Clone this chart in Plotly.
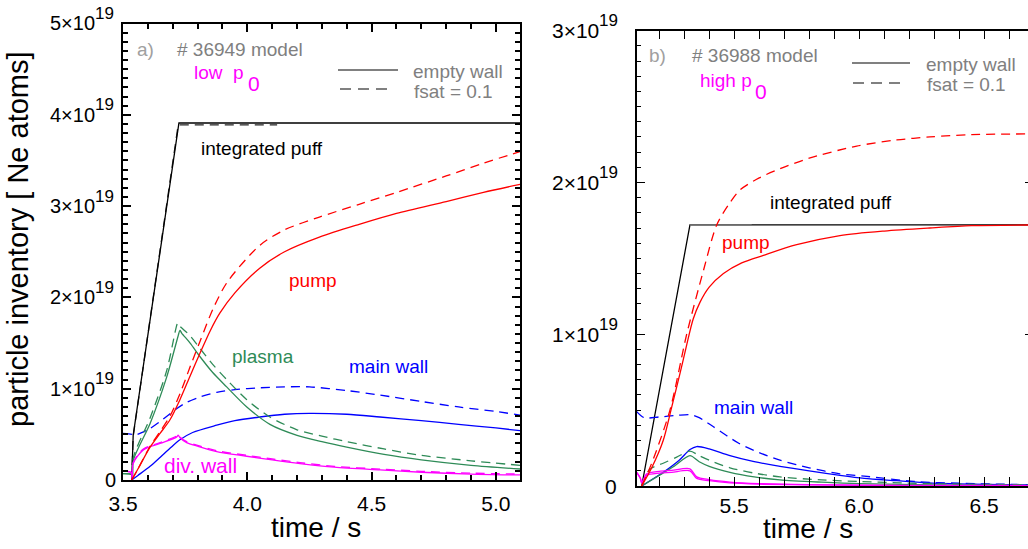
import plotly.graph_objects as go

# ---------------------------------------------------------------
# Neon particle inventories (units of 1e19 atoms) versus time [s]
# ---------------------------------------------------------------
SCALE = 1e19

# ---- panel a) : # 36949, low p0 ----
t_puff_a = [3.535, 3.541, 3.725, 5.1]
puff_a = [0.0, 0.49, 3.91, 3.91]
t_puff_a_fs = [3.535, 3.541, 3.722, 4.12]
puff_a_fs = [0.0, 0.48, 3.89, 3.89]

t_pump_a = [3.535, 3.56, 3.609, 3.649, 3.689, 3.729, 3.77, 3.81, 3.85, 3.89, 3.95,
            4.05, 4.15, 4.29, 4.45, 4.6, 4.8, 4.95, 5.1]
pump_a = [0.0, 0.12, 0.36, 0.51, 0.66, 0.88, 1.14, 1.39, 1.63, 1.83, 2.05,
          2.32, 2.50, 2.66, 2.80, 2.92, 3.05, 3.15, 3.24]
t_pump_a_fs = [3.535, 3.56, 3.609, 3.649, 3.689, 3.73, 3.77, 3.81, 3.863, 3.92,
               4.05, 4.15, 4.29, 4.45, 4.6, 4.8, 4.95, 5.1]
pump_a_fs = [0.0, 0.12, 0.37, 0.53, 0.70, 0.95, 1.24, 1.52, 1.88, 2.17,
             2.57, 2.74, 2.88, 3.02, 3.15, 3.33, 3.47, 3.60]

t_plasma_a = [3.5, 3.534, 3.538, 3.542, 3.609, 3.676, 3.722, 3.729, 3.736, 3.77, 3.81,
              3.86, 3.917, 3.998, 4.091, 4.2, 4.3, 4.4, 4.55, 4.7, 4.9, 5.1]
plasma_a = [0.07, 0.06, 0.02, 0.22, 0.62, 1.13, 1.58, 1.64, 1.61, 1.50, 1.35,
            1.18, 1.02, 0.80, 0.61, 0.49, 0.42, 0.36, 0.28, 0.22, 0.16, 0.12]
t_plasma_a_fs = [3.5, 3.534, 3.538, 3.542, 3.609, 3.676, 3.713, 3.72, 3.727, 3.77, 3.81,
                 3.86, 3.917, 3.998, 4.091, 4.2, 4.3, 4.4, 4.55, 4.7, 4.9, 5.1]
plasma_a_fs = [0.07, 0.06, 0.02, 0.25, 0.68, 1.20, 1.66, 1.72, 1.69, 1.58, 1.44,
               1.27, 1.10, 0.88, 0.69, 0.55, 0.48, 0.42, 0.34, 0.27, 0.21, 0.16]

t_main_a = [3.535, 3.56, 3.609, 3.65, 3.69, 3.729, 3.78, 3.877, 3.95, 4.05, 4.15, 4.25,
            4.4, 4.534, 4.7, 4.85, 5.0, 5.1]
main_a = [0.0, 0.05, 0.15, 0.25, 0.35, 0.44, 0.52, 0.60, 0.65, 0.69, 0.72, 0.73,
          0.72, 0.69, 0.65, 0.61, 0.57, 0.54]
t_main_a_fs = [3.5, 3.535, 3.545, 3.6, 3.649, 3.71, 3.756, 3.81, 3.877, 3.95, 4.05, 4.15,
               4.25, 4.4, 4.534, 4.7, 4.85, 5.0, 5.1]
main_a_fs = [0.51, 0.50, 0.49, 0.55, 0.64, 0.77, 0.85, 0.91, 0.96, 0.99, 1.01, 1.02,
             1.02, 0.98, 0.93, 0.86, 0.80, 0.75, 0.71]

t_div_a = [3.5, 3.533, 3.537, 3.541, 3.582, 3.649, 3.715, 3.722, 3.73, 3.756, 3.8, 3.877,
           3.998, 4.1, 4.212, 4.35, 4.534, 4.7, 4.9, 5.1]
div_a = [0.10, 0.08, 0.01, 0.18, 0.33, 0.40, 0.47, 0.49, 0.46, 0.41, 0.37, 0.31,
         0.26, 0.22, 0.18, 0.14, 0.11, 0.085, 0.065, 0.055]
div_a_fs = [0.10, 0.08, 0.01, 0.19, 0.34, 0.41, 0.48, 0.50, 0.47, 0.42, 0.38, 0.32,
            0.27, 0.23, 0.19, 0.15, 0.12, 0.095, 0.075, 0.065]

# ---- panel b) : # 36988, high p0 ----
t_puff_b = [5.13, 5.323, 6.7]
puff_b = [0.0, 1.72, 1.72]
t_puff_b_fs = [5.323, 5.57]
puff_b_fs = [1.72, 1.72]

t_pump_b = [5.13, 5.17, 5.216, 5.25, 5.283, 5.31, 5.336, 5.363, 5.40, 5.457, 5.53,
            5.617, 5.75, 5.923, 6.1, 6.283, 6.45, 6.7]
pump_b = [0.0, 0.12, 0.30, 0.52, 0.74, 0.93, 1.10, 1.21, 1.31, 1.40, 1.47,
          1.52, 1.59, 1.65, 1.68, 1.70, 1.715, 1.72]
t_pump_b_fs = [5.13, 5.17, 5.243, 5.31, 5.377, 5.43, 5.48, 5.523, 5.6, 5.683, 5.8,
               5.99, 6.15, 6.283, 6.45, 6.7]
pump_b_fs = [0.0, 0.15, 0.50, 1.00, 1.42, 1.72, 1.86, 1.95, 2.03, 2.09, 2.16,
             2.24, 2.28, 2.30, 2.315, 2.32]

t_main_b = [5.13, 5.216, 5.28, 5.323, 5.35, 5.4, 5.483, 5.58, 5.683, 5.8, 5.923,
            6.02, 6.15, 6.28, 6.45, 6.7]
main_b = [0.0, 0.09, 0.17, 0.24, 0.26, 0.245, 0.20, 0.16, 0.13, 0.10, 0.07,
          0.05, 0.035, 0.02, 0.012, 0.006]
t_main_b_fs = [5.11, 5.14, 5.2, 5.27, 5.323, 5.36, 5.417, 5.52, 5.6, 5.683, 5.8,
               5.923, 6.02, 6.22, 6.4, 6.7]
main_b_fs = [0.49, 0.45, 0.455, 0.465, 0.47, 0.45, 0.39, 0.28, 0.22, 0.17, 0.12,
             0.08, 0.065, 0.03, 0.018, 0.008]

t_plasma_b = [5.13, 5.2, 5.26, 5.323, 5.36, 5.4, 5.483, 5.58, 5.683, 5.85, 6.0, 6.3, 6.7]
plasma_b = [0.0, 0.07, 0.13, 0.20, 0.16, 0.13, 0.09, 0.06, 0.04, 0.025, 0.015, 0.008, 0.004]
t_plasma_b_fs = [5.13, 5.163, 5.216, 5.27, 5.323, 5.36, 5.4, 5.483, 5.58, 5.683, 5.85,
                 6.0, 6.3, 6.7]
plasma_b_fs = [0.0, 0.11, 0.15, 0.19, 0.23, 0.20, 0.17, 0.12, 0.085, 0.06, 0.04,
               0.03, 0.015, 0.008]

t_div_b = [5.11, 5.125, 5.13, 5.15, 5.2, 5.25, 5.323, 5.35, 5.4, 5.483, 5.6, 5.8, 6.2, 6.7]
div_b = [0.09, 0.05, 0.02, 0.07, 0.085, 0.09, 0.10, 0.05, 0.035, 0.02, 0.012, 0.007, 0.003, 0.002]
div_b_fs = [0.09, 0.05, 0.02, 0.08, 0.097, 0.103, 0.113, 0.06, 0.042, 0.026, 0.016, 0.009, 0.004, 0.003]

# tick labels
yticks_a = [0, 1, 2, 3, 4, 5]
yticks_b = [0, 1, 2, 3]
EXPONENT = "19"

# ---------------------------------------------------------------
W, H = 1028, 549
FONT = "Liberation Sans"
RED, GREEN, BLUE, MAG = "#ff0000", "#2e8b57", "#0000ff", "#ff00ff"
GRAY = "#808080"
DASH = "9px,6px"


def px(x, y):
    """pixel position -> paper coordinates"""
    return x / W, 1 - y / H


fig = go.Figure()


def add(t, v, color, dash, xa, ya, width=1.3, shape="spline"):
    fig.add_trace(go.Scatter(
        x=t, y=[s * SCALE for s in v], mode="lines",
        line=dict(color=color, width=width, dash=dash, shape=shape, smoothing=0.8),
        xaxis=xa, yaxis=ya, showlegend=False, hoverinfo="skip"))


# panel a
add(t_puff_a_fs, puff_a_fs, "#222222", DASH, "x", "y", shape="linear")
add(t_puff_a, puff_a, "black", "solid", "x", "y", shape="linear")
add(t_main_a_fs, main_a_fs, BLUE, DASH, "x", "y")
add(t_main_a, main_a, BLUE, "solid", "x", "y")
add(t_plasma_a_fs, plasma_a_fs, GREEN, DASH, "x", "y")
add(t_plasma_a, plasma_a, GREEN, "solid", "x", "y")
add(t_div_a, div_a_fs, MAG, DASH, "x", "y")
add(t_div_a, div_a, MAG, "solid", "x", "y")
add(t_pump_a_fs, pump_a_fs, RED, DASH, "x", "y")
add(t_pump_a, pump_a, RED, "solid", "x", "y")

# panel b
add(t_puff_b, puff_b, "black", "solid", "x2", "y2", shape="linear")
add(t_puff_b_fs, puff_b_fs, "#7a7a7a", "solid", "x2", "y2", 1.6, shape="linear")
add(t_main_b_fs, main_b_fs, BLUE, DASH, "x2", "y2")
add(t_main_b, main_b, BLUE, "solid", "x2", "y2")
add(t_plasma_b_fs, plasma_b_fs, GREEN, DASH, "x2", "y2")
add(t_plasma_b, plasma_b, GREEN, "solid", "x2", "y2")
add(t_div_b, div_b_fs, MAG, "solid", "x2", "y2")
add(t_div_b, div_b, MAG, "solid", "x2", "y2")
add(t_pump_b_fs, pump_b_fs, RED, DASH, "x2", "y2")
add(t_pump_b, pump_b, RED, "solid", "x2", "y2")
# carrier for the right-hand tick axis of panel b
fig.add_trace(go.Scatter(x=[], y=[], xaxis="x2", yaxis="y3", showlegend=False))

# ---------------------------------------------------------------
# axes
AX_A = (123, 520, 23.5, 480)      # left, right, top, bottom (px)
AX_B = (636.7, 1028, 30.7, 486)
XSCALE = 248.6                    # px per second, panel a
XSCALE_B = 250.0                  # px per second, panel b

common_x = dict(showgrid=False, zeroline=False, showline=True, linecolor="black",
                automargin=False,
                ticks="inside", tickcolor="black", tickformat=".1f", dtick=0.5,
                tickfont=dict(family=FONT, size=21, color="black"))
common_y = dict(showgrid=False, zeroline=False, showline=True, linecolor="black",
                automargin=False,
                ticks="inside", tickcolor="black", dtick=SCALE, showticklabels=False)

fig.update_layout(
    template="none",
    xaxis=dict(common_x, domain=[AX_A[0] / W, AX_A[1] / W],
               range=[3.5, 3.5 + (AX_A[1] - AX_A[0]) / XSCALE], tick0=3.5,
               anchor="y", mirror="allticks", linewidth=2, ticklen=8, tickwidth=1.5,
               ticklabelstandoff=4,
               minor=dict(dtick=0.1, tick0=3.5, ticks="inside", ticklen=5,
                          tickwidth=1.5, tickcolor="black", showgrid=False)),
    yaxis=dict(common_y, domain=[1 - AX_A[3] / H, 1 - AX_A[2] / H], range=[0, 5 * SCALE],
               anchor="x", mirror="allticks", linewidth=2, ticklen=8, tickwidth=1.5,
               minor=dict(dtick=0.1 * SCALE, ticks="inside", ticklen=5,
                          tickwidth=1.5, tickcolor="black", showgrid=False)),
    xaxis2=dict(common_x, domain=[AX_B[0] / W, 1.0],
                range=[5.11, 5.11 + (AX_B[1] - AX_B[0]) / XSCALE_B], tick0=5.5,
                anchor="y2", mirror="allticks", linewidth=1.5, ticklen=9, tickwidth=1.3,
                ticklabelstandoff=0,
                minor=dict(dtick=0.1, tick0=5.5, ticks="inside", ticklen=5,
                           tickwidth=1.3, tickcolor="black", showgrid=False)),
    yaxis2=dict(common_y, domain=[1 - AX_B[3] / H, 1 - AX_B[2] / H], range=[0, 3 * SCALE],
                anchor="x2", mirror=False, linewidth=1.5, ticklen=9, tickwidth=1.3,
                minor=dict(dtick=0.1 * SCALE, ticks="inside", ticklen=5,
                           tickwidth=1.3, tickcolor="black", showgrid=False)),
    yaxis3=dict(overlaying="y2", anchor="x2", side="right", range=[0, 3 * SCALE],
                tickvals=[1 * SCALE, 2 * SCALE], ticks="inside", ticklen=3, tickwidth=1.3,
                tickcolor="black", showline=False, showgrid=False, zeroline=False,
                showticklabels=False, automargin=False),
)

# ---------------------------------------------------------------
ann = []


def text(x, y, s, size=19, color="black", xanchor="center", yanchor="middle", **kw):
    xx, yy = px(x, y)
    ann.append(dict(x=xx, y=yy, xref="paper", yref="paper", text=s, showarrow=False,
                    xanchor=xanchor, yanchor=yanchor,
                    font=dict(family=FONT, size=size, color=color), **kw))


# advance widths (em) of the glyphs used in the y tick labels
GLYPH_EM = {"0": 0.556, "1": 0.556, "2": 0.556, "3": 0.556, "4": 0.556, "5": 0.556,
            "×": 0.584}


def ylabels(ticks, yref, x_left, x_zero, size, exp_size, exp_dy):
    for v in ticks:
        if v == 0:
            ann.append(dict(x=x_zero / W, y=0, xref="paper", yref=yref, text="0",
                            showarrow=False, xanchor="right", yanchor="middle",
                            font=dict(family=FONT, size=size, color="black")))
            continue
        base = f"{v}×10"
        ann.append(dict(x=x_left / W, y=v * SCALE, xref="paper", yref=yref, text=base,
                        showarrow=False, xanchor="left", yanchor="middle",
                        font=dict(family=FONT, size=size, color="black")))
        width = sum(GLYPH_EM[c] for c in base) * size
        ann.append(dict(x=(x_left + width) / W, y=v * SCALE, xref="paper", yref=yref,
                        text=EXPONENT, showarrow=False, xanchor="left",
                        yanchor="middle", yshift=exp_dy,
                        font=dict(family=FONT, size=exp_size, color="black")))


ylabels(yticks_a, "y", 48, 118, 20, 17, 10)
ylabels(yticks_b, "y2", 550, 619, 21, 17, 10)

# axis titles
text(18, 239, "particle inventory [ Ne atoms]", size=29, textangle=-90)
text(316, 527, "time / s", size=28)
text(808, 528, "time / s", size=28)

# panel a annotations
text(135, 49, "a)", size=19, color="#a0a0a0", xanchor="left")
text(175, 49, "# 36949 model", size=19, color=GRAY, xanchor="left")
text(192, 73, "low  p", size=19, color=MAG, xanchor="left")
text(246, 83, "0", size=21, color=MAG, xanchor="left")
text(411, 71, "empty wall", size=19, color=GRAY, xanchor="left")
text(412, 91, "fsat = 0.1", size=19, color=GRAY, xanchor="left")
text(199, 148, "integrated puff", size=19, xanchor="left")
text(287, 280, "pump", size=19, color=RED, xanchor="left")
text(230, 357, "plasma", size=19, color=GREEN, xanchor="left")
text(347, 366, "main wall", size=19, color=BLUE, xanchor="left")
text(162, 465, "div. wall", size=21, color=MAG, xanchor="left")

# panel b annotations
text(647, 55, "b)", size=19, color="#a0a0a0", xanchor="left")
text(690, 55, "# 36988 model", size=19, color=GRAY, xanchor="left")
text(698, 80, "high p", size=19, color=MAG, xanchor="left")
text(753, 91, "0", size=21, color=MAG, xanchor="left")
text(924, 64, "empty wall", size=19, color=GRAY, xanchor="left")
text(925, 85, "fsat = 0.1", size=19, color=GRAY, xanchor="left")
text(768, 202, "integrated puff", size=19, xanchor="left")
text(720, 242, "pump", size=19, color=RED, xanchor="left")
text(712, 407, "main wall", size=19, color=BLUE, xanchor="left")

# legend keys
shapes = []


def key(x0, x1, y, dash):
    a, b = px(x0, y)
    c, _ = px(x1, y)
    shapes.append(dict(type="line", xref="paper", yref="paper", x0=a, x1=c, y0=b, y1=b,
                       line=dict(color=GRAY, width=2, dash=dash)))


key(338, 398, 70, "solid")
key(340, 390, 89, "11px,7px")
key(852, 910, 63, "solid")
key(853, 900, 83, "11px,7px")

fig.update_layout(
    annotations=ann, shapes=shapes,
    width=W, height=H, autosize=False,
    margin=dict(l=0, r=0, t=0, b=0, pad=0),
    paper_bgcolor="white", plot_bgcolor="white",
    font=dict(family=FONT),
)

fig.write_html("out.html")
